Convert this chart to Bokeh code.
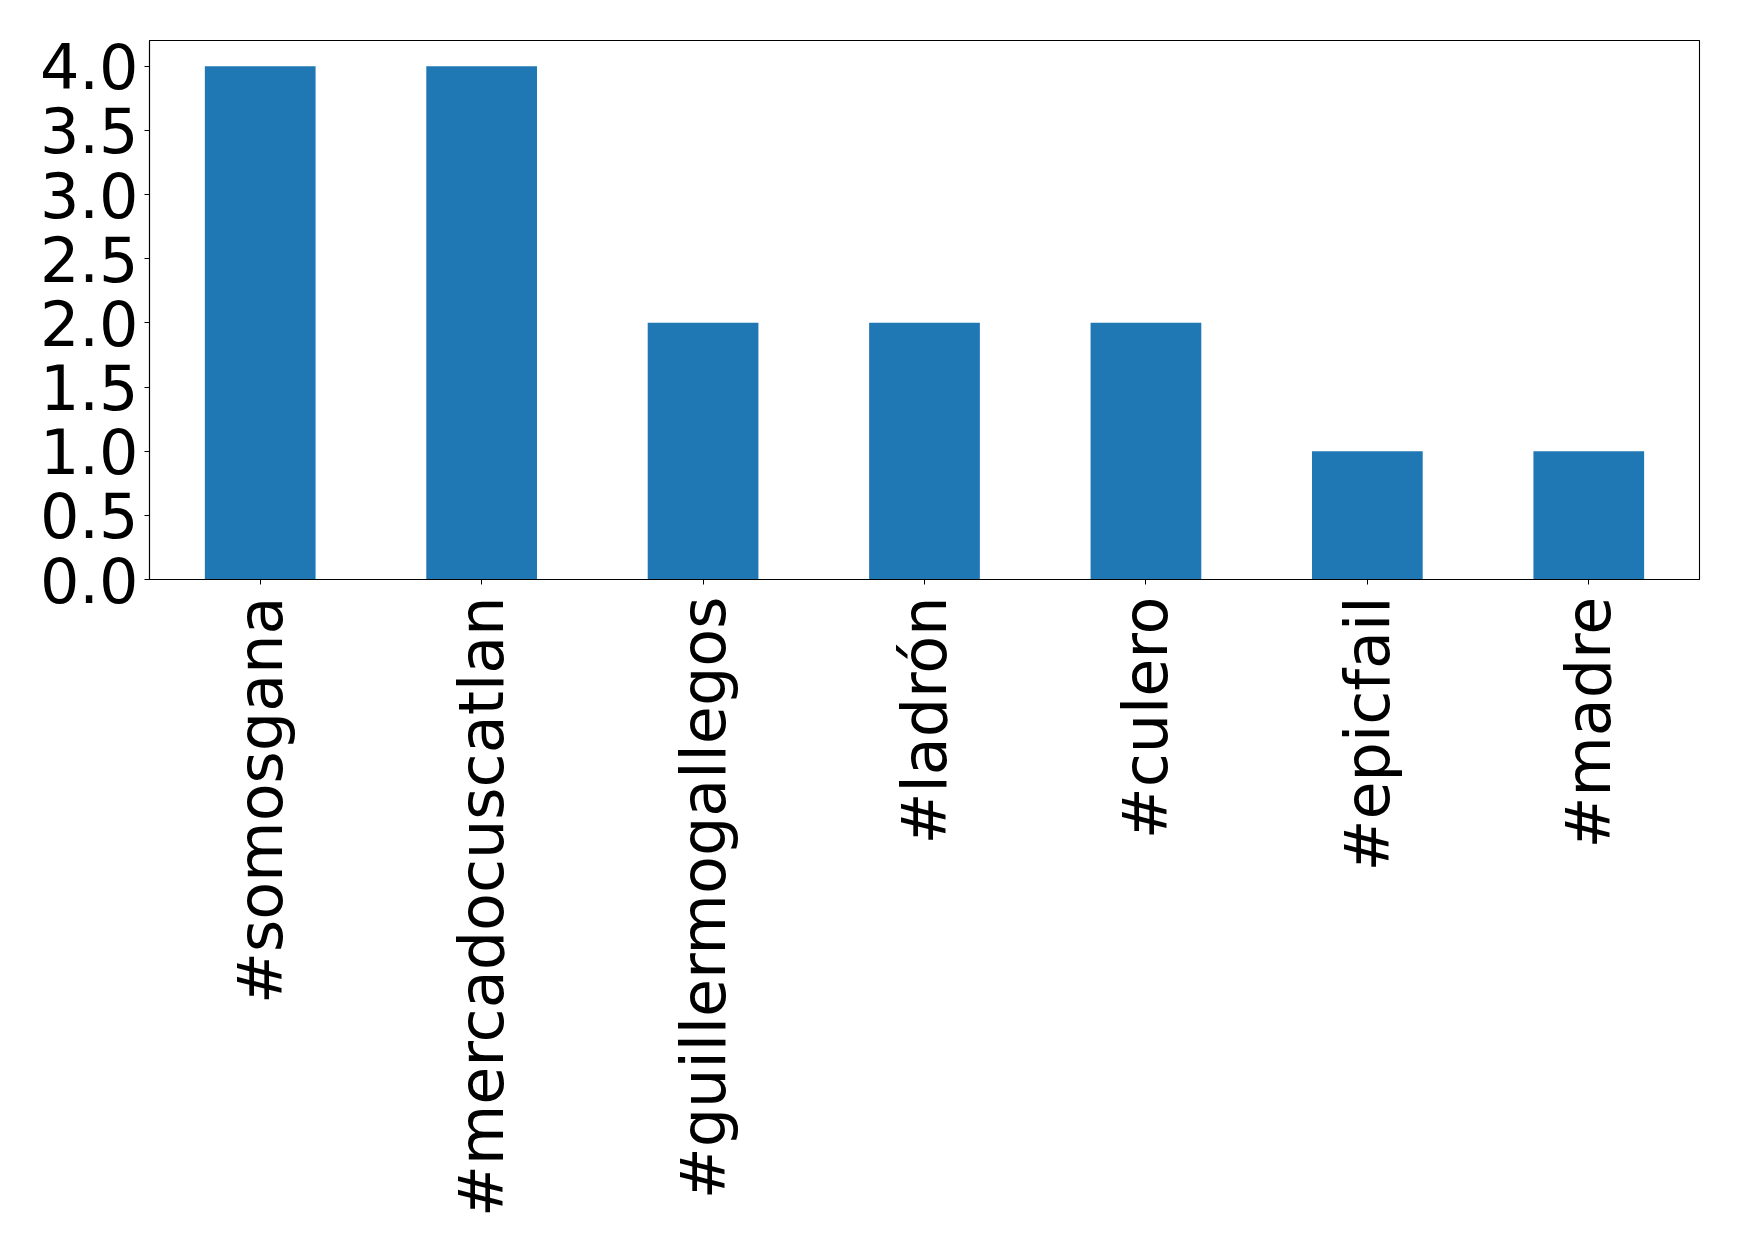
import math
from bokeh.plotting import figure
from bokeh.models import Range1d, FactorRange, FixedTicker, ColumnDataSource
from bokeh.embed import file_html
from bokeh.resources import INLINE

hashtags = ["#somosgana", "#mercadocuscatlan", "#guillermogallegos", "#ladrón",
            "#culero", "#epicfail", "#madre"]
counts = [4, 4, 2, 2, 2, 1, 1]
y_ticks = [0.0, 0.5, 1.0, 1.5, 2.0, 2.5, 3.0, 3.5, 4.0]

src = ColumnDataSource(data=dict(tag=hashtags, count=counts))

p = figure(x_range=FactorRange(*hashtags), y_range=Range1d(0, 4.2),
           frame_width=1550, frame_height=539,
           min_border_left=149, min_border_right=24, min_border_top=40,
           min_border_bottom=650,
           output_backend="svg", toolbar_location=None)

p.vbar(x="tag", top="count", width=0.5, source=src,
       fill_color="#1f77b4", line_color=None)

p.xgrid.visible = False
p.ygrid.visible = False
p.outline_line_color = "black"
p.outline_line_width = 1.1
p.outline_line_alpha = 1.0
p.background_fill_color = "white"
p.border_fill_color = "white"

p.yaxis.ticker = FixedTicker(ticks=y_ticks)
p.yaxis.major_label_overrides = {t: f"{t:.1f}" for t in y_ticks}

for ax in (p.xaxis[0], p.yaxis[0]):
    ax.major_label_text_font = "DejaVu Sans"
    ax.major_label_text_font_size = "62px"
    ax.major_label_text_color = "black"
    ax.major_tick_out = 5
    ax.major_tick_in = 0
    ax.minor_tick_out = 0
    ax.minor_tick_in = 0
    ax.major_tick_line_color = "black"
    ax.axis_line_color = "black"
    ax.axis_line_width = 1.1

p.xaxis.major_label_orientation = math.pi / 2
p.xaxis.major_label_standoff = 12
p.yaxis.major_label_standoff = 6

open("out.html", "w").write(file_html(p, INLINE))
